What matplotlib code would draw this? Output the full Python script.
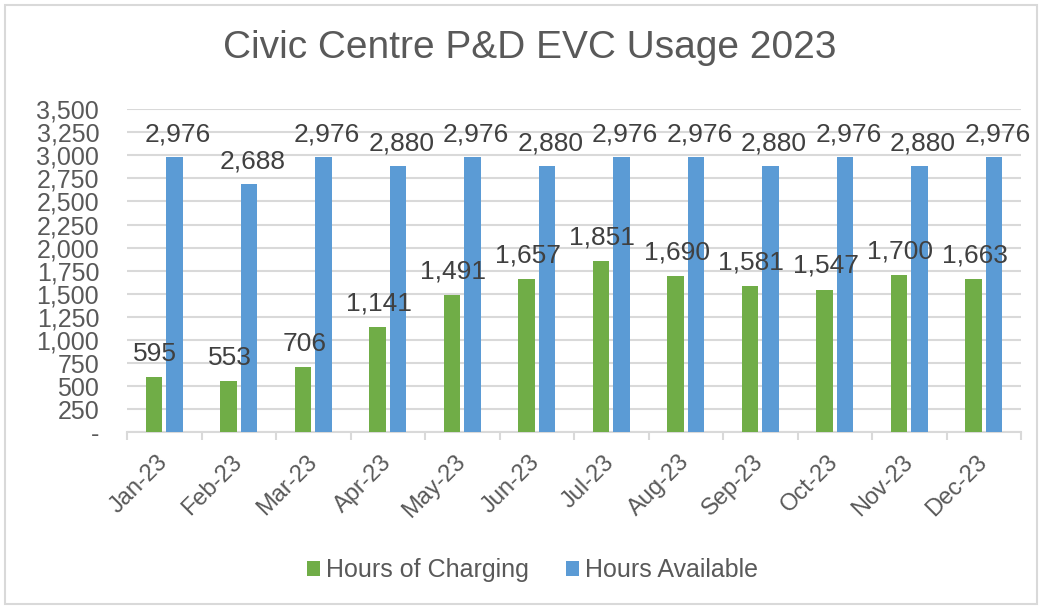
import matplotlib
matplotlib.use("Agg")
import matplotlib.pyplot as plt
import numpy as np
from matplotlib.patches import Rectangle

months = ["Jan-23", "Feb-23", "Mar-23", "Apr-23", "May-23", "Jun-23",
          "Jul-23", "Aug-23", "Sep-23", "Oct-23", "Nov-23", "Dec-23"]
charging = [595, 553, 706, 1141, 1491, 1657, 1851, 1690, 1581, 1547, 1700, 1663]
available = [2976, 2688, 2976, 2880, 2976, 2880, 2976, 2976, 2880, 2976, 2880, 2976]
yticks = list(range(0, 3501, 250))

plt.rcParams['font.family'] = ['Liberation Sans', 'DejaVu Sans']
txt = '#595959'
green = '#70AD47'
blue = '#5B9BD5'

fig = plt.figure(figsize=(10.42, 6.08), dpi=100)
ax = fig.add_axes([0.1219, 0.2887, 0.858, 0.532])
fig.patches.append(Rectangle((0.005, 0.006), 0.99, 0.986, transform=fig.transFigure,
                             fill=False, edgecolor='#D9D9D9', linewidth=1.5))

x = np.arange(len(months))
w = 0.22
off = 0.1376
b1 = ax.bar(x - off, charging, w, color=green, label='Hours of Charging', zorder=3)
b2 = ax.bar(x + off, available, w, color=blue, label='Hours Available', zorder=3)

def fmt(v):
    return f"{v:,}"

for xi, v in zip(x, charging):
    ax.annotate(fmt(v), (xi - off, v), xytext=(1, 12), textcoords='offset points',
                ha='center', va='baseline', fontsize=19, color='#404040', zorder=4)
for xi, v in zip(x, available):
    ax.annotate(fmt(v), (xi + off, v), xytext=(2.5, 11.5), textcoords='offset points',
                ha='center', va='baseline', fontsize=19, color='#404040', zorder=4)

ax.set_xlim(-0.5, len(months) - 0.5)
ax.set_ylim(0, 3500)
ax.set_yticks(yticks)
ax.set_yticklabels(['-' if t == 0 else f"{t:,}" for t in yticks], fontsize=18, color=txt)
ax.yaxis.grid(True, color='#D9D9D9', linewidth=1.5, zorder=0)
ax.tick_params(axis='y', length=0, pad=20)

ax.set_xticks(x)
ax.set_xticklabels(months, rotation=45, ha='right', va='center', rotation_mode='anchor',
                   fontsize=17, color=txt)
ax.tick_params(axis='x', length=0, pad=19)
ax.set_xticks(np.arange(-0.5, len(months), 1), minor=True)
ax.tick_params(axis='x', which='minor', length=6, color='#D9D9D9', width=1.5)

for s in ['top', 'right', 'left']:
    ax.spines[s].set_visible(False)
ax.spines['bottom'].set_color('#D9D9D9')
ax.spines['bottom'].set_linewidth(1.5)

fig.text(0.508, 0.921, 'Civic Centre P&D EVC Usage 2023', ha='center', va='center',
         fontsize=28, color=txt)

fig.legend(handles=[b1, b2], loc='center', bbox_to_anchor=(0.511, 0.062), ncol=2,
           frameon=False, fontsize=18, labelcolor=txt, handlelength=0.5,
           handleheight=0.5, columnspacing=1.5, handletextpad=0.25)

fig.savefig('out.png', dpi=100)
